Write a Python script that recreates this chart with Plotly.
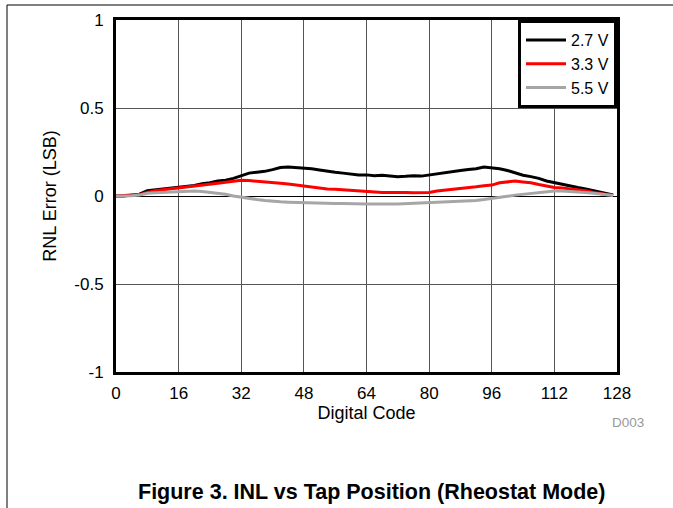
import plotly.graph_objects as go

codes = list(range(0, 128, 2)) + [127]

inl_27 = [0.0, 0.0, 0.005, 0.01, 0.03, 0.035, 0.04, 0.045, 0.05, 0.055, 0.06, 0.07, 0.075, 0.085, 0.09, 0.10,
          0.115, 0.13, 0.135, 0.14, 0.15, 0.162, 0.165, 0.162, 0.158, 0.155, 0.148, 0.14, 0.135, 0.13, 0.125, 0.12,
          0.12, 0.115, 0.118, 0.112, 0.11, 0.112, 0.115, 0.113, 0.12, 0.125, 0.13, 0.138, 0.145, 0.15, 0.155, 0.165,
          0.162, 0.155, 0.145, 0.13, 0.118, 0.11, 0.10, 0.085, 0.075, 0.068, 0.058, 0.048, 0.04, 0.03, 0.02, 0.012, 0.006]
inl_33 = [0.0, 0.002, 0.005, 0.008, 0.02, 0.03, 0.035, 0.04, 0.045, 0.048, 0.055, 0.06, 0.065, 0.072, 0.078, 0.085,
          0.09, 0.088, 0.085, 0.082, 0.078, 0.072, 0.068, 0.062, 0.055, 0.05, 0.045, 0.04, 0.038, 0.035, 0.028, 0.025,
          0.025, 0.022, 0.02, 0.02, 0.022, 0.02, 0.018, 0.02, 0.02, 0.028, 0.032, 0.038, 0.042, 0.048, 0.052, 0.058,
          0.062, 0.075, 0.082, 0.085, 0.08, 0.075, 0.065, 0.055, 0.048, 0.045, 0.04, 0.038, 0.03, 0.02, 0.012, 0.005, 0.003]
inl_55 = [0.0, 0.0, 0.002, 0.005, 0.015, 0.018, 0.02, 0.022, 0.025, 0.025, 0.028, 0.025, 0.02, 0.015, 0.01, 0.0,
          -0.008, -0.015, -0.02, -0.025, -0.03, -0.033, -0.035, -0.037, -0.038, -0.04, -0.04, -0.042, -0.043, -0.043, -0.045, -0.045,
          -0.046, -0.045, -0.047, -0.045, -0.045, -0.043, -0.043, -0.04, -0.038, -0.036, -0.035, -0.033, -0.03, -0.028, -0.025, -0.02,
          -0.015, -0.008, -0.002, 0.005, 0.01, 0.015, 0.02, 0.025, 0.028, 0.028, 0.026, 0.024, 0.02, 0.015, 0.01, 0.005, 0.003]

series_names = ["2.7 V", "3.3 V", "5.5 V"]
series_colors = ["#000000", "#ff0000", "#a6a6a6"]

x_ticks = [0, 16, 32, 48, 64, 80, 96, 112, 128]
y_ticks = [-1, -0.5, 0, 0.5, 1]
y_tick_labels = ["-1", "-0.5", "0", "0.5", "1"]

FONT = "Liberation Sans, Arial, sans-serif"

fig = go.Figure()
for name, vals, col in zip(series_names, [inl_27, inl_33, inl_55], series_colors):
    fig.add_trace(go.Scatter(x=codes, y=vals, mode="lines", name=name,
                             line=dict(color=col, width=3)))

W, H = 673, 508
L, R, T, B = 116, 56, 20, 136
pw, ph = W - L - R, H - T - B

def px(x):
    return (x - L) / pw

def py(y):
    return (H - B - y) / ph

fig.update_layout(
    width=W, height=H,
    margin=dict(l=L, r=R, t=T, b=B, pad=0),
    paper_bgcolor="white", plot_bgcolor="white",
    font=dict(family=FONT, size=17, color="black"),
    showlegend=True,
    legend=dict(x=1, y=1, xanchor="right", yanchor="top",
                bordercolor="black", borderwidth=3, bgcolor="white",
                font=dict(size=16, family=FONT), tracegroupgap=0,
                itemwidth=40),
    xaxis=dict(range=[0, 128], tickvals=x_ticks, showgrid=True, gridcolor="#555555", gridwidth=1,
               showline=True, linecolor="black", linewidth=3, mirror=True, ticks="",
               zeroline=False, tickfont=dict(size=17), ticklabelstandoff=4,
               title=dict(text="Digital Code", font=dict(size=18), standoff=2)),
    yaxis=dict(range=[-1, 1], tickvals=y_ticks, ticktext=y_tick_labels, showgrid=True,
               gridcolor="#555555", gridwidth=1,
               showline=True, linecolor="black", linewidth=3, mirror=True, ticks="",
               zeroline=True, zerolinecolor="black", zerolinewidth=1, tickfont=dict(size=17),
               ticklabelstandoff=6,
               title=dict(text="RNL Error (LSB)", font=dict(size=18), standoff=14)),
    shapes=[
        dict(type="line", xref="paper", yref="paper", x0=px(7), x1=px(673), y0=py(5), y1=py(5),
             line=dict(color="black", width=1)),
        dict(type="line", xref="paper", yref="paper", x0=px(7), x1=px(7), y0=py(5), y1=py(508),
             line=dict(color="black", width=1)),
    ],
    annotations=[
        dict(text="D003", xref="paper", yref="paper", x=px(646), y=py(422), xanchor="right",
             yanchor="middle", showarrow=False, font=dict(size=13.5, color="#999999", family=FONT)),
        dict(text="<b>Figure 3. INL vs Tap Position (Rheostat Mode)</b>", xref="paper", yref="paper",
             x=px(371), y=py(492), xanchor="center", yanchor="middle", showarrow=False,
             font=dict(size=21.5, color="black", family=FONT)),
    ],
)

fig.write_html("out.html", config={"displayModeBar": False},
               post_script="document.body.style.margin='0px';")
